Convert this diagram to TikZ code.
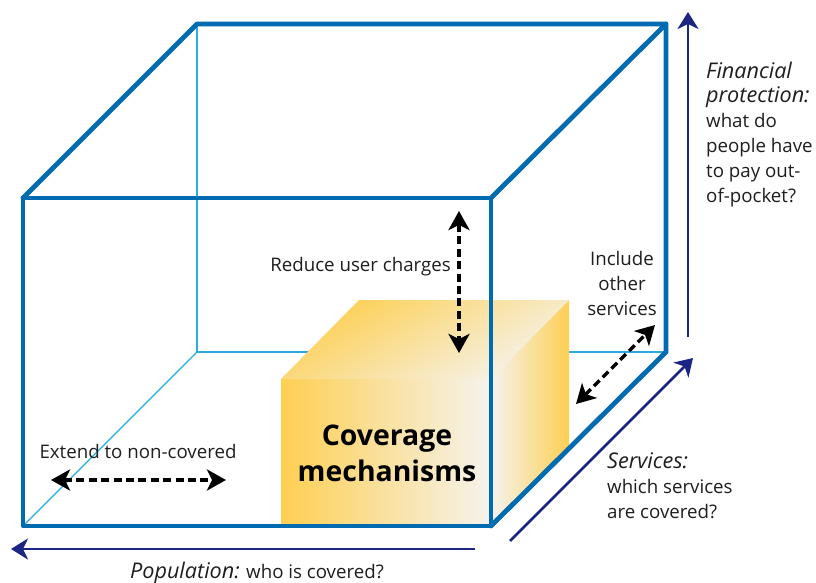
\documentclass[tikz,border=0pt]{standalone}
\usepackage{fontspec}
\setmainfont{Open Sans}
\usetikzlibrary{arrows.meta}
\definecolor{boxblue}{RGB}{0,107,176}
\definecolor{thinblue}{RGB}{41,171,226}
\definecolor{navy}{RGB}{27,38,130}
\definecolor{gold}{RGB}{253,207,82}
\definecolor{pale}{RGB}{245,243,238}
\definecolor{inktext}{RGB}{30,30,30}
\newcommand{\emphlabel}[1]{{\fontsize{21.6}{24.8}\selectfont\itshape #1}}
\tikzset{
  thickedge/.style={draw=boxblue,line width=4.8pt,line join=round,line cap=round},
  thinedge/.style={draw=thinblue,line width=1.3pt},
  axisarrow/.style={draw=navy,line width=2.8pt,-{Stealth[length=17pt,width=21pt,inset=5pt]}},
  leverarrow/.style={draw=black,line width=3.4pt,dash pattern=on 8pt off 4.4pt,
    {Stealth[length=19pt,width=21pt,inset=5pt]}-{Stealth[length=19pt,width=21pt,inset=5pt]}},
  label/.style={font=\fontsize{18.7}{24.8}\selectfont,text=inktext,inner sep=0pt,align=left},
  coverlabel/.style={font=\fontsize{28.4}{36}\selectfont\bfseries,text=black,inner sep=0pt,align=center}
}
\begin{document}
\begin{tikzpicture}[x=1pt,y=-1pt]
\useasboundingbox (0,0) rectangle (816,583);
% cube corners
\coordinate (ftl) at (23,198);
\coordinate (ftr) at (491,198);
\coordinate (fbl) at (23,526);
\coordinate (fbr) at (491,526);
\coordinate (btl) at (197,24);
\coordinate (btr) at (666,24);
\coordinate (bbl) at (197,352);
\coordinate (bbr) at (666,352);
% hidden edges
\draw[thinedge] (btl) -- (bbl) -- (bbr);
\draw[thinedge] (bbl) -- (fbl);
% gold block
\coordinate (gfl) at (281,379);
\coordinate (gfr) at (491,379);
\coordinate (gbl) at (359,300);
\coordinate (gbr) at (569,300);
\coordinate (gbb) at (569,448);
\coordinate (gfb) at (281,526);
\shade[left color=gold,right color=pale] (gfl) -- (gfr) -- (fbr) -- (gfb) -- cycle;
\shade[left color=pale,right color=gold] (gfr) -- (gbr) -- (gbb) -- (fbr) -- cycle;
\shade[top color=pale,bottom color=gold,shading angle=-150] (gfl) -- (gbl) -- (gbr) -- (gfr) -- cycle;
% visible edges
\draw[thickedge] (ftl) -- (ftr) -- (fbr) -- (fbl) -- cycle;
\draw[thickedge] (ftl) -- (btl) -- (btr) -- (ftr);
\draw[thickedge] (btr) -- (bbr) -- (fbr);
% axis arrows
\coordinate (popS) at (475,549);
\coordinate (popE) at (11,549);
\coordinate (srvS) at (510,541);
\coordinate (srvE) at (693,358);
\coordinate (finS) at (688,337);
\coordinate (finE) at (688,12);
\draw[axisarrow] (popS) -- (popE);
\draw[axisarrow] (srvS) -- (srvE);
\draw[axisarrow] (finS) -- (finE);
% lever arrows
\coordinate (redA) at (459,211);
\coordinate (redB) at (459,353);
\coordinate (extA) at (51,480);
\coordinate (extB) at (226,480);
\coordinate (incA) at (576,404);
\coordinate (incB) at (655,325);
\draw[leverarrow] (redA) -- (redB);
\draw[leverarrow] (extA) -- (extB);
\draw[leverarrow] (incA) -- (incB);
% labels
\node[label,anchor=base] (extL) at (138,458) {Extend to non-covered};
\node[label,anchor=base east] (redL) at (451,271) {Reduce user charges};
\node[label,anchor=base,align=center] (incL) at (622,315) {Include\\other\\services};
\node[label,anchor=base] (popL) at (257,578) {\emphlabel{Population:} who is covered?};
\node[label,anchor=base west] (srvL) at (607,518) {\emphlabel{Services:}\\which services\\are covered?};
\node[label,anchor=base west] (finL) at (706,202) {\emphlabel{Financial}\\\emphlabel{protection:}\\what do\\people have\\to pay out-\\of-pocket?};
\node[coverlabel,anchor=base] (covL) at (387,481) {Coverage\\mechanisms};
\end{tikzpicture}
\end{document}
